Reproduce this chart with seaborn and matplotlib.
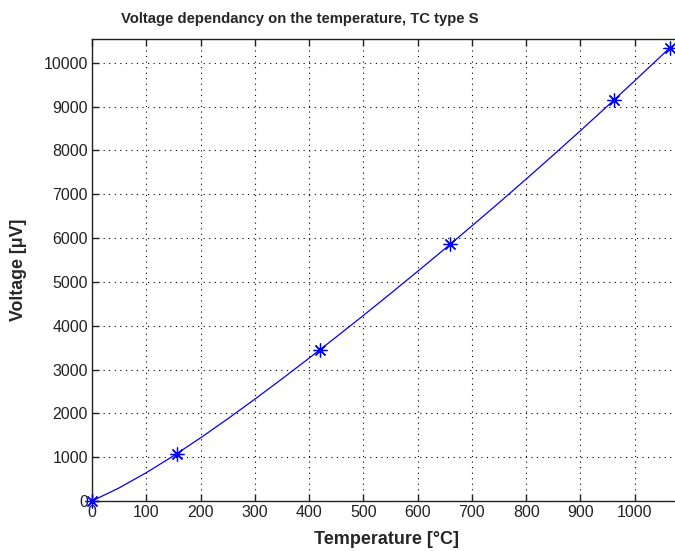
import matplotlib
matplotlib.use("Agg")
import matplotlib.pyplot as plt
import pandas as pd
import seaborn as sns

# Curve (temperature in degC, voltage in uV)
curve_t = [0, 50, 100, 150, 200, 250, 300, 350, 400, 450, 500, 550,
           600, 650, 700, 750, 800, 850, 900, 950, 1000, 1050, 1064.2]
curve_v = [0, 299, 646, 1029, 1441, 1874, 2323, 2786, 3259, 3742, 4233, 4732,
           5239, 5753, 6275, 6806, 7345, 7893, 8449, 9014, 9587, 10168, 10334]

# Marked calibration points
point_t = [0, 156.6, 419.5, 660.3, 961.8, 1064.2]
point_v = [0, 1082, 3447, 5860, 9148, 10334]

x_ticks = [0, 100, 200, 300, 400, 500, 600, 700, 800, 900, 1000]
y_ticks = [0, 1000, 2000, 3000, 4000, 5000, 6000, 7000, 8000, 9000, 10000]

sns.set_theme(style="white")
plt.rcParams['font.family'] = ['Liberation Sans', 'DejaVu Sans']

df_curve = pd.DataFrame({"t": curve_t, "v": curve_v})
df_pts = pd.DataFrame({"t": point_t, "v": point_v})

fig = plt.figure(figsize=(6.75, 5.51), dpi=100)
fig.patch.set_facecolor("white")
ax = fig.add_axes([92 / 675, 50 / 551, 597 / 675, 462 / 551])

sns.lineplot(data=df_curve, x="t", y="v", ax=ax, color="blue", linewidth=0.9)
sns.lineplot(data=df_pts, x="t", y="v", ax=ax, color="blue", linestyle="none",
             marker=(8, 2, 0), markersize=10, markeredgewidth=0.9,
             markeredgecolor="blue", clip_on=False, zorder=5)

ax.set_xlim(0, 1100)
ax.set_ylim(0, 10540)
ax.set_xticks(x_ticks)
ax.set_yticks(y_ticks)
ax.grid(True, color="black", linestyle=(0, (1, 4)), linewidth=0.8)
ax.tick_params(direction="in", length=5, width=1, labelsize=11.5,
               colors="#222222", top=True, right=True, bottom=True, left=True,
               pad=3)
for s in ax.spines.values():
    s.set_color("#222222")
    s.set_linewidth(1)

ax.set_xlabel("")
ax.set_ylabel("")
fig.text(386 / 675, 1 - 540 / 551, "Temperature [°C]", ha="center", va="center",
         fontsize=13, fontweight="bold")
fig.text(19 / 675, 1 - 270 / 551, "Voltage [μV]", ha="center", va="center",
         rotation=90, fontsize=12.8, fontweight="bold")
fig.text(300 / 675, 1 - 19 / 551, "Voltage dependancy on the temperature, TC type S",
         ha="center", va="center", fontsize=10.7, fontweight="bold")

fig.savefig("out.png", dpi=100)
